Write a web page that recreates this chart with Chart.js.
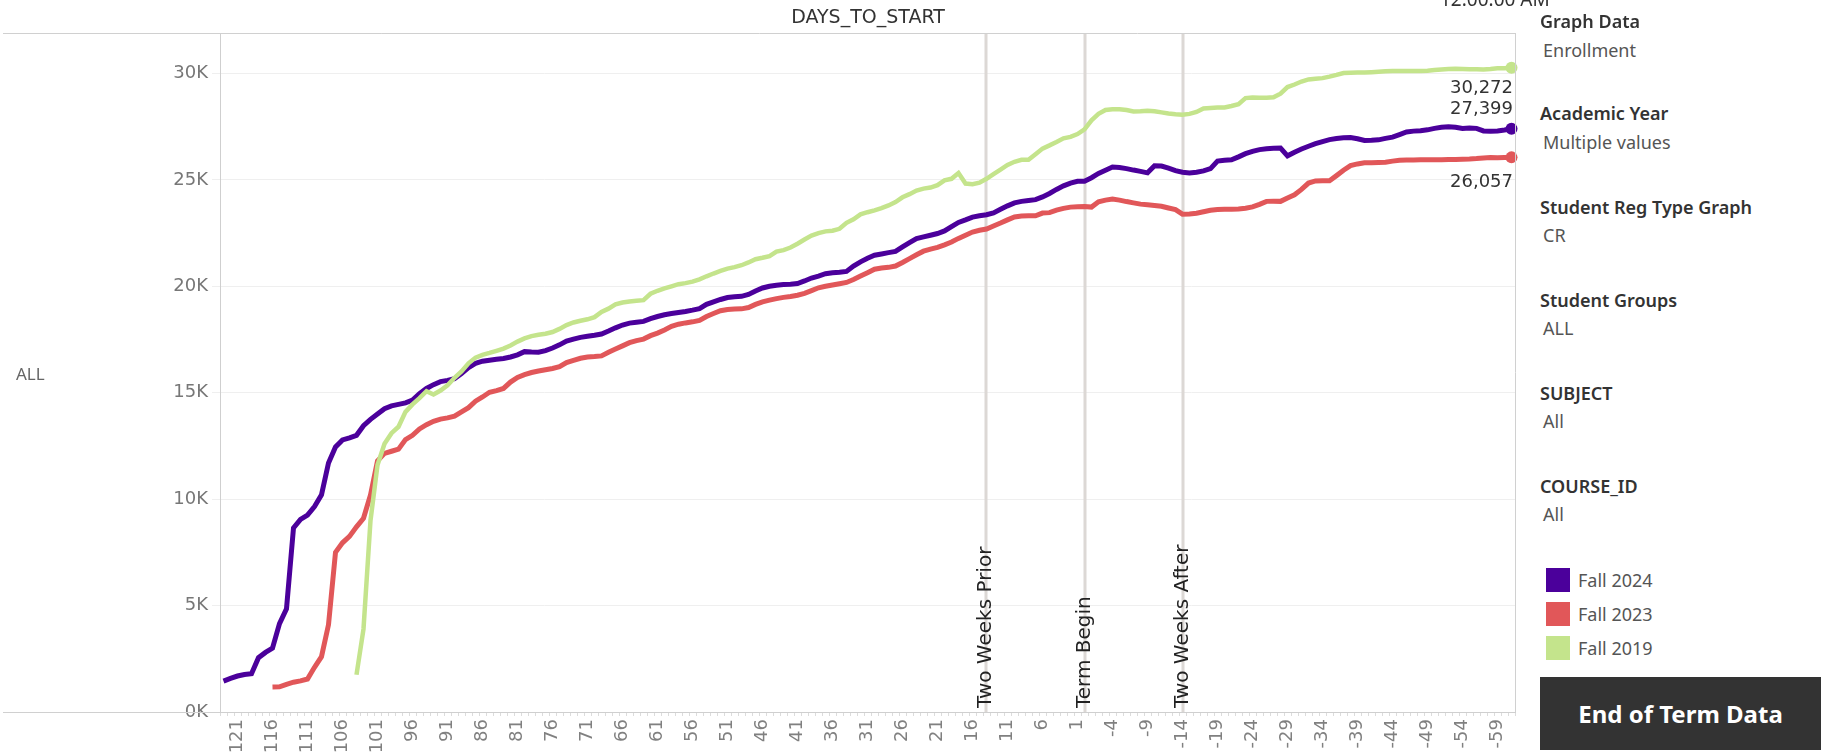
<!DOCTYPE html>
<html>
<head>
<meta charset="utf-8">
<script src="https://cdn.jsdelivr.net/npm/chart.js@4.4.1/dist/chart.umd.min.js"></script>
<style>
  html, body { margin: 0; padding: 0; background: #fff; width: 1821px; height: 755px; overflow: hidden; font-family: "Noto Sans", sans-serif; }
  #chartBox { position: absolute; left: 0; top: 0; width: 1521px; height: 755px; }
  .t { position: absolute; white-space: nowrap; }
  .hdr { font-size: 18px; font-weight: 600; color: #333; left: 1540px; }
  .val { font-size: 18px; color: #555; left: 1543px; }
  .sw { position: absolute; left: 1546px; width: 24px; height: 24px; }
  .lg { font-size: 18px; color: #555; left: 1578px; }
  #btn { position: absolute; left: 1540px; top: 677px; width: 281px; height: 73px; background: #333; color: #fff;
         font-size: 24px; font-weight: 700; display: flex; align-items: center; justify-content: center; }
</style>
</head>
<body>
<div id="chartBox"><canvas id="enrollChart" width="1521" height="755"></canvas></div>

<div class="t" style="left:1440px;top:-14px;font-size:19px;color:#333;">12:00:00 AM</div>
<div class="t" style="left:220px;width:1296px;text-align:center;top:5px;font-size:19px;color:#333;font-family:'DejaVu Sans';">DAYS_TO_START</div>
<div class="t" style="left:16px;top:362px;font-size:17px;color:#666;">ALL</div>

<div class="t hdr" style="top:9px;">Graph Data</div>
<div class="t val" style="top:38px;">Enrollment</div>
<div class="t hdr" style="top:101px;">Academic Year</div>
<div class="t val" style="top:130px;">Multiple values</div>
<div class="t hdr" style="top:195px;">Student Reg Type Graph</div>
<div class="t val" style="top:223px;">CR</div>
<div class="t hdr" style="top:288px;">Student Groups</div>
<div class="t val" style="top:316px;">ALL</div>
<div class="t hdr" style="top:381px;">SUBJECT</div>
<div class="t val" style="top:409px;">All</div>
<div class="t hdr" style="top:474px;">COURSE_ID</div>
<div class="t val" style="top:502px;">All</div>

<div class="sw" style="top:568px;background:#4b009b;"></div>
<div class="t lg" style="top:568px;">Fall 2024</div>
<div class="sw" style="top:602px;background:#e15759;"></div>
<div class="t lg" style="top:602px;">Fall 2023</div>
<div class="sw" style="top:636px;background:#c4e48c;"></div>
<div class="t lg" style="top:636px;">Fall 2019</div>

<div id="btn">End of Term Data</div>

<script>
// ==========================================
// Datos
// ==========================================
const days = [123,122,121,120,119,118,117,116,115,114,113,112,111,110,109,108,107,106,105,104,
  103,102,101,100,99,98,97,96,95,94,93,92,91,90,89,88,87,86,85,84,83,82,81,80,79,78,77,76,75,74,
  73,72,71,70,69,68,67,66,65,64,63,62,61,60,59,58,57,56,55,54,53,52,51,50,49,48,47,46,45,44,
  43,42,41,40,39,38,37,36,35,34,33,32,31,30,29,28,27,26,25,24,23,22,21,20,19,18,17,16,15,14,
  13,12,11,10,9,8,7,6,5,4,3,2,1,0,-1,-2,-3,-4,-5,-6,-7,-8,-9,-10,-11,-12,-13,-14,-15,-16,
  -17,-18,-19,-20,-21,-22,-23,-24,-25,-26,-27,-28,-29,-30,-31,-32,-33,-34,-35,-36,-37,-38,-39,-40,
  -41,-42,-43,-44,-45,-46,-47,-48,-49,-50,-51,-52,-53,-54,-55,-56,-57,-58,-59,-60,-61];

const fall2024 = [1450,1580,1690,1760,1800,2550,2800,3000,4150,4850,
  8650,9050,9250,9650,10200,11700,12450,12780,12880,13000,
  13450,13750,14000,14250,14380,14450,14520,14650,14950,15200,
  15380,15520,15580,15660,15900,16180,16380,16480,16530,16570,
  16610,16680,16780,16930,16910,16900,16980,17100,17250,17430,
  17520,17600,17650,17700,17760,17900,18050,18180,18270,18310,
  18350,18480,18580,18660,18720,18770,18820,18880,18950,19150,
  19270,19380,19470,19510,19530,19620,19780,19920,20000,20050,
  20080,20100,20130,20250,20390,20480,20590,20640,20660,20700,
  20950,21150,21320,21460,21520,21580,21640,21850,22050,22240,
  22320,22400,22480,22600,22800,23000,23120,23250,23310,23360,
  23450,23620,23780,23920,23990,24030,24070,24200,24360,24550,
  24720,24850,24930,24940,25100,25300,25450,25600,25580,25530,
  25460,25400,25330,25660,25650,25550,25430,25360,25320,25360,
  25420,25530,25880,25920,25940,26080,26230,26340,26420,26460,
  26480,26490,26130,26300,26450,26580,26700,26800,26890,26940,
  26980,26990,26930,26850,26860,26880,26950,27010,27130,27250,
  27290,27310,27350,27420,27470,27500,27470,27410,27440,27420,
  27300,27280,27300,27340,27399];

const fall2023 = [null,null,null,null,null,null,null,
  1170,1180,1300,1400,1460,1550,2100,2600,4100,7500,
  7950,8250,8700,9100,10200,11800,12150,12250,12350,12800,
  13000,13300,13500,13660,13760,13820,13900,14100,14300,14600,
  14800,15020,15100,15200,15500,15720,15850,15950,16020,16080,
  16140,16220,16420,16520,16620,16680,16700,16730,16900,17050,
  17200,17350,17450,17520,17680,17800,17950,18120,18220,18280,
  18330,18400,18580,18720,18850,18910,18930,18940,19000,19150,
  19270,19350,19420,19480,19520,19580,19670,19800,19930,20000,
  20060,20120,20180,20320,20480,20640,20800,20860,20890,20950,
  21120,21300,21480,21650,21750,21830,21950,22080,22250,22400,
  22550,22630,22690,22830,22970,23120,23260,23300,23310,23310,
  23440,23460,23580,23660,23720,23740,23750,23720,23970,24050,
  24100,24050,23980,23920,23860,23830,23800,23760,23680,23600,
  23390,23400,23430,23500,23570,23610,23620,23620,23630,23670,
  23730,23850,23990,24000,23990,24150,24300,24550,24850,24950,
  24960,24960,25200,25450,25670,25750,25800,25810,25820,25830,
  25880,25920,25930,25930,25940,25940,25940,25950,25960,25960,
  25970,25980,26000,26030,26050,26040,26050,26057];

const fall2019 = [null,null,null,null,null,null,null,null,null,null,
  null,null,null,null,null,null,null,null,null,
  1750,3900,9000,11600,12600,13100,13400,14100,14450,14750,
  15070,14920,15100,15350,15700,16000,16380,16650,16780,16870,
  16970,17070,17220,17400,17550,17660,17720,17770,17850,18000,
  18180,18300,18380,18450,18550,18800,18950,19150,19240,19290,
  19320,19350,19650,19790,19900,20000,20100,20150,20220,20330,
  20470,20600,20720,20830,20900,20990,21120,21270,21340,21420,
  21630,21700,21820,22000,22200,22380,22500,22580,22610,22700,
  22980,23150,23380,23480,23570,23670,23800,23960,24180,24330,
  24500,24590,24640,24750,24980,25050,25320,24830,24800,24870,
  25050,25270,25480,25700,25850,25940,25940,26200,26470,26620,
  26780,26950,27020,27150,27370,27800,28100,28280,28320,28320,
  28280,28210,28220,28250,28220,28170,28120,28080,28060,28100,
  28190,28350,28380,28400,28400,28470,28560,28840,28870,28860,
  28860,28880,29050,29360,29480,29620,29720,29750,29780,29850,
  29930,30020,30030,30040,30040,30060,30080,30100,30110,30120,
  30120,30120,30120,30130,30160,30190,30210,30220,30210,30200,
  30200,30190,30210,30240,30240,30272];

const yTickValues = [0, 5000, 10000, 15000, 20000, 25000, 30000];
const seriesNames = ['Fall 2024', 'Fall 2023', 'Fall 2019'];
const seriesColors = ['#4b009b', '#e15759', '#c4e48c'];
const refDays = [14, 0, -14];
const refLabels = ['Two Weeks Prior', 'Term Begin', 'Two Weeks After'];
const endLabelOffsets = [-19, 25, 21]; // px relative to the last point

// ==========================================
// Plugin: lineas de referencia y etiquetas
// ==========================================
const overlayPlugin = {
  id: 'overlay',
  beforeDatasetsDraw(chart) {
    const { ctx, chartArea: a, scales: { x } } = chart;
    ctx.save();
    ctx.strokeStyle = '#dcd8d5';
    ctx.lineWidth = 3;
    refDays.forEach(d => {
      const px = Math.round(x.getPixelForValue(days.indexOf(d)));
      ctx.beginPath(); ctx.moveTo(px, a.top); ctx.lineTo(px, a.bottom); ctx.stroke();
    });
    ctx.restore();
  },
  afterDatasetsDraw(chart) {
    const { ctx, chartArea: a, scales: { x, y } } = chart;
    ctx.save();
    ctx.font = '20px "DejaVu Sans"';
    ctx.fillStyle = '#222';
    ctx.textAlign = 'left';
    ctx.textBaseline = 'middle';
    refDays.forEach((d, i) => {
      const px = Math.round(x.getPixelForValue(days.indexOf(d)));
      ctx.save();
      ctx.translate(px, a.bottom - 4);
      ctx.rotate(-Math.PI / 2);
      ctx.fillText(refLabels[i], 0, 0);
      ctx.restore();
    });
    // valores finales
    ctx.font = '18px "DejaVu Sans"';
    ctx.fillStyle = '#333';
    ctx.textAlign = 'right';
    chart.data.datasets.forEach((ds, i) => {
      const last = ds.data.length - 1;
      const v = ds.data[last];
      const py = y.getPixelForValue(v) + endLabelOffsets[i];
      ctx.fillText(v.toLocaleString('en-US'), a.right - 2, py);
    });
    ctx.restore();
  },
  afterDraw(chart) {
    const { ctx, chartArea: a } = chart;
    ctx.save();
    ctx.strokeStyle = '#d0d0d0';
    ctx.lineWidth = 1;
    ctx.beginPath();
    ctx.moveTo(3, a.top + 0.5); ctx.lineTo(a.right + 0.5, a.top + 0.5);
    ctx.moveTo(a.right + 0.5, a.top); ctx.lineTo(a.right + 0.5, a.bottom);
    ctx.moveTo(3, a.bottom + 0.5); ctx.lineTo(a.left, a.bottom + 0.5);
    ctx.stroke();
    ctx.restore();
  }
};

const lastPointRadius = (c) => c.dataIndex === c.dataset.data.length - 1 ? 6 : 0;

new Chart(document.getElementById('enrollChart'), {
  type: 'line',
  data: {
    labels: days.map(String),
    datasets: [fall2024, fall2023, fall2019].map((arr, i) => ({
      label: seriesNames[i],
      data: arr,
      borderColor: seriesColors[i],
      backgroundColor: seriesColors[i],
      borderWidth: i === 2 ? 4.5 : 5,
      tension: 0,
      spanGaps: false,
      pointRadius: lastPointRadius,
      pointBorderWidth: 0,
      order: 3 - i
    }))
  },
  options: {
    responsive: false,
    animation: false,
    layout: { padding: { top: 33, right: 5, left: 0, bottom: 0 } },
    plugins: { legend: { display: false }, tooltip: { enabled: false } },
    scales: {
      x: {
        type: 'category',
        offset: true,
        grid: { drawOnChartArea: false, tickLength: 4, color: '#dcdcdc', offset: true },
        border: { color: '#cfcfcf' },
        ticks: {
          autoSkip: false, maxRotation: 90, minRotation: 90, padding: 3,
          color: '#808080', font: { family: 'DejaVu Sans', size: 18 },
          callback: (v, i) => (((days[i] % 5) + 5) % 5 === 1 ? String(days[i]) : '')
        },
        afterFit: s => { s.height = 43; s.paddingLeft = 0; s.paddingRight = 0; }
      },
      y: {
        min: 0, max: 31900,
        grid: { color: '#efefef', tickLength: 8, tickColor: '#efefef' },
        border: { color: '#cfcfcf' },
        ticks: {
          padding: 4,
          color: '#777', font: { family: 'DejaVu Sans', size: 18 },
          callback: v => (v / 1000) + 'K'
        },
        afterBuildTicks: s => { s.ticks = yTickValues.map(v => ({ value: v })); },
        afterFit: s => { s.width = 220; s.paddingTop = 0; s.paddingBottom = 0; }
      }
    }
  },
  plugins: [overlayPlugin]
});
</script>
</body>
</html>
